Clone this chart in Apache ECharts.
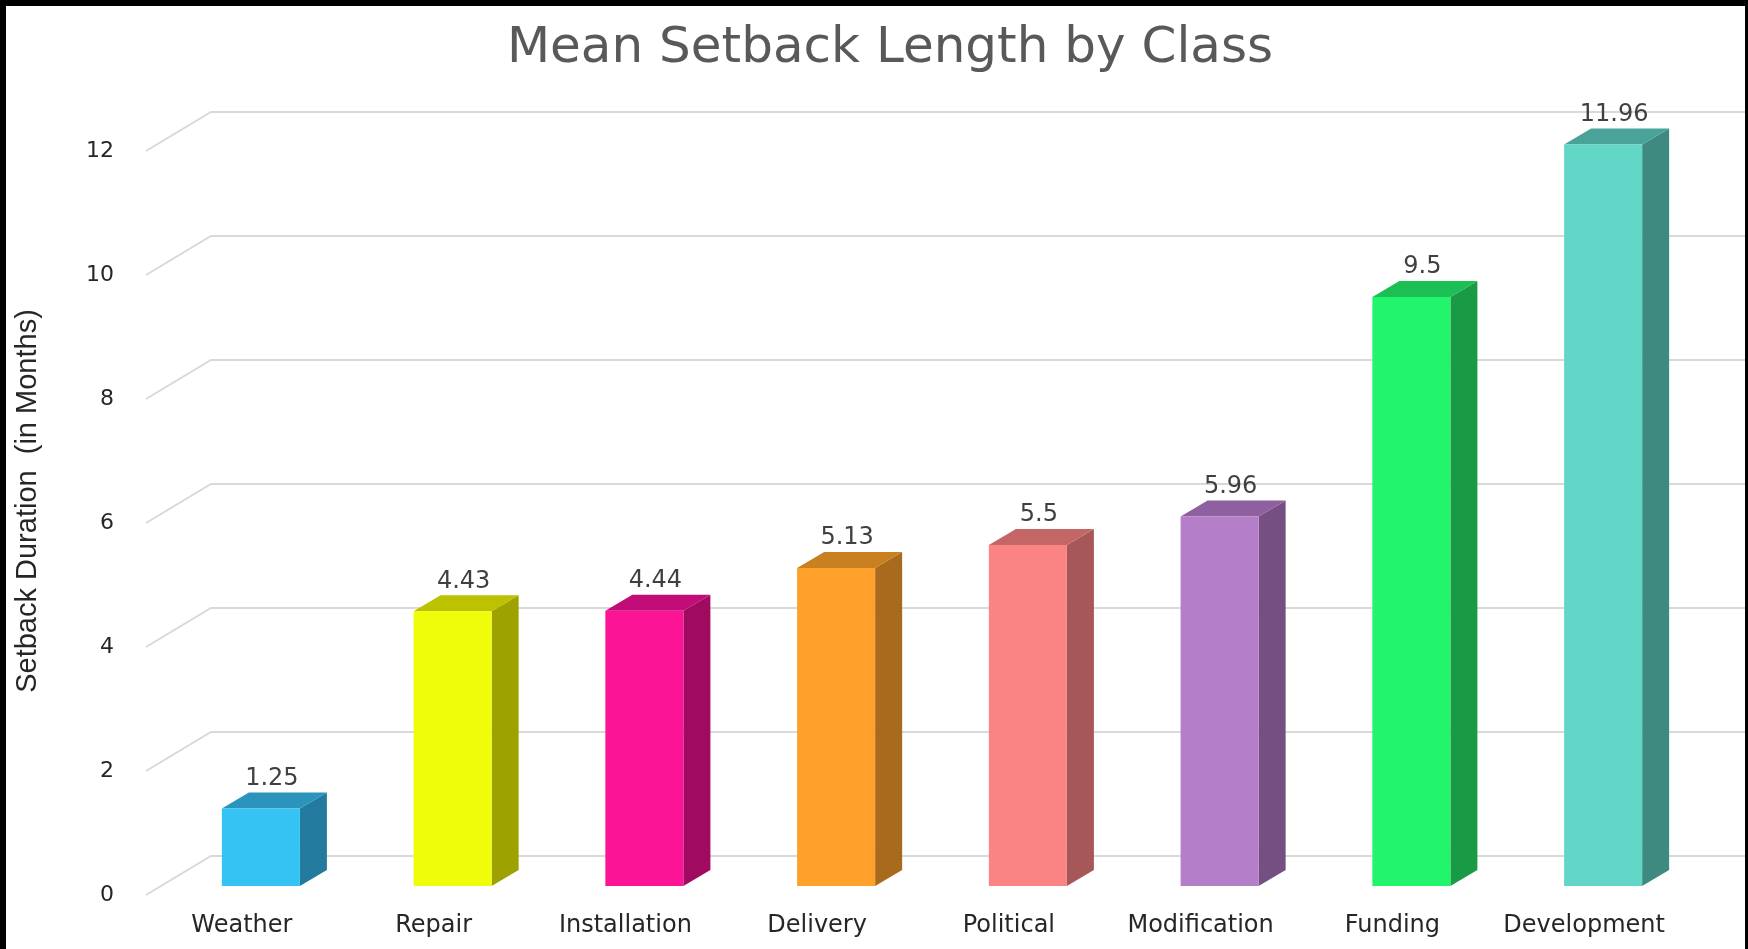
<!DOCTYPE html>
<html>
<head>
<meta charset="utf-8">
<script src="https://cdn.jsdelivr.net/npm/echarts@6/dist/echarts.min.js"></script>
<style>
  html, body { margin: 0; padding: 0; background: #ffffff; }
  #chart { position: absolute; left: 0; top: 0; width: 1748px; height: 949px; }
  #frame { position: absolute; left: 0; top: 0; width: 1748px; height: 949px; box-sizing: border-box;
           border-top: 6px solid #000; border-left: 6px solid #000; border-right: 3px solid #000; pointer-events: none; }
</style>
</head>
<body>
<div id="chart"></div>
<div id="frame"></div>
<script>
const categories = ['Weather', 'Repair', 'Installation', 'Delivery', 'Political', 'Modification', 'Funding', 'Development'];
const values = [1.25, 4.43, 4.44, 5.13, 5.5, 5.96, 9.5, 11.96];
const yTicks = [0, 2, 4, 6, 8, 10, 12];

const frontColors = ['#35C3F3', '#F0FD0A', '#FC1496', '#FEA02A', '#FA8383', '#B47EC8', '#22F46C', '#62D7C8'];
const sideColors  = ['#227A9E', '#9EA200', '#A00A5F', '#A86A1C', '#A65757', '#754F82', '#199B45', '#3E8A80'];
const topColors   = ['#2A94BD', '#BDC200', '#C20C77', '#C88020', '#C46666', '#8E60A0', '#1BBF54', '#4AA399'];

const chart = echarts.init(document.getElementById('chart'), null, { renderer: 'canvas' });

// 3D projection parameters (pixels)
const WALL_DX = 65, WALL_DY = -39;     // front plane -> back wall
const BAR_DX = 19, BAR_DY = -9;        // front plane -> bar front face
const DEPTH_DX = 27, DEPTH_DY = -16;   // bar depth
const BAR_FRAC = 0.407;

const option = {
  backgroundColor: '#ffffff',
  animation: false,
  title: {
    text: 'Mean Setback Length by Class',
    left: 885,
    top: 19,
    textAlign: 'center',
    textStyle: { fontFamily: 'DejaVu Sans', fontSize: 50, fontWeight: 'normal', color: '#595959' }
  },
  grid: { left: 146, right: 68, top: 151, bottom: 54, outerBoundsMode: 'none' },
  xAxis: {
    type: 'category',
    data: categories,
    axisLine: { show: false },
    axisTick: { show: false },
    axisLabel: { interval: 0, margin: 19, fontFamily: 'DejaVu Sans', fontSize: 24, color: '#262626' }
  },
  yAxis: {
    type: 'value',
    min: 0,
    max: 12,
    interval: 2,
    name: 'Setback Duration  (in Months)',
    nameLocation: 'middle',
    nameRotate: 90,
    nameGap: 104,
    nameTextStyle: { fontFamily: 'Liberation Sans', fontSize: 29, color: '#262626', padding: [0, 0, 0, 44] },
    axisLine: { show: false },
    axisTick: { show: false },
    splitLine: { show: false },
    axisLabel: { margin: 32, fontFamily: 'DejaVu Sans', fontSize: 22, color: '#262626' }
  },
  series: [
    {
      name: 'walls',
      type: 'custom',
      z: 1,
      silent: true,
      clip: false,
      data: yTicks.map(v => [0, v]),
      renderItem: function (params, api) {
        const cs = params.coordSys;
        const y = api.coord([0, api.value(1)])[1];
        return {
          type: 'polyline',
          shape: { points: [[cs.x, y], [cs.x + WALL_DX, y + WALL_DY], [1745, y + WALL_DY]] },
          style: { stroke: '#d9d9d9', lineWidth: 2, fill: null }
        };
      }
    },
    {
      name: 'Mean Setback Length',
      type: 'custom',
      z: 3,
      clip: false,
      data: values.map((v, i) => [i, v]),
      renderItem: function (params, api) {
        const i = api.value(0);
        const v = api.value(1);
        const base = api.coord([i, 0]);
        const top = api.coord([i, v]);
        const band = api.size([1, 0])[0];
        const w = band * BAR_FRAC;
        const x0 = base[0] + BAR_DX - w / 2;
        const x1 = x0 + w;
        const yb = base[1] + BAR_DY;
        const yt = top[1] + BAR_DY;
        const ci = params.dataIndex;
        return {
          type: 'group',
          children: [
            {
              type: 'polygon',
              shape: { points: [[x1, yb], [x1 + DEPTH_DX, yb + DEPTH_DY], [x1 + DEPTH_DX, yt + DEPTH_DY], [x1, yt]] },
              style: { fill: sideColors[ci] }
            },
            {
              type: 'polygon',
              shape: { points: [[x0, yt], [x0 + DEPTH_DX, yt + DEPTH_DY], [x1 + DEPTH_DX, yt + DEPTH_DY], [x1, yt]] },
              style: { fill: topColors[ci] }
            },
            {
              type: 'rect',
              shape: { x: x0, y: yt, width: w, height: yb - yt },
              style: { fill: frontColors[ci] }
            },
            {
              type: 'text',
              x: (x0 + x1) / 2 + 11,
              y: yt - 30,
              style: {
                text: String(v),
                align: 'center',
                verticalAlign: 'middle',
                fontFamily: 'DejaVu Sans',
                fontSize: 24,
                fill: '#404040'
              }
            }
          ]
        };
      }
    }
  ]
};

chart.setOption(option);
</script>
</body>
</html>
